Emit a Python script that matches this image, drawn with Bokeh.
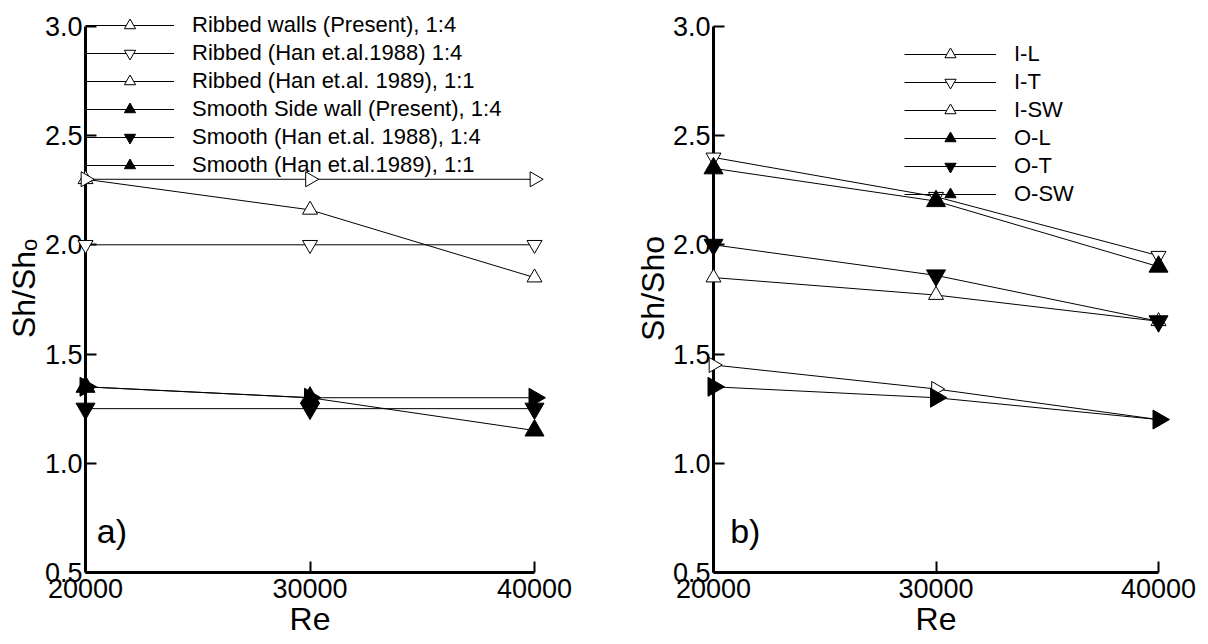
import math
from bokeh.plotting import figure
from bokeh.layouts import row
from bokeh.models import (Legend, LegendItem, Label, FixedTicker, Range1d,
                          NumeralTickFormatter)
from bokeh.embed import file_html
from bokeh.resources import INLINE

# ---------------- data ----------------
re_values = [20000, 30000, 40000]
x_ticks = [20000, 30000, 40000]
y_ticks = [0.5, 1.0, 1.5, 2.0, 2.5, 3.0]

a_labels = [
    "Ribbed walls (Present), 1:4",
    "Ribbed (Han et.al.1988) 1:4",
    "Ribbed (Han et.al. 1989), 1:1",
    "Smooth Side wall (Present), 1:4",
    "Smooth (Han et.al. 1988), 1:4",
    "Smooth (Han et.al.1989), 1:1",
]
a_ribbed_present = [2.30, 2.16, 1.85]
a_ribbed_han1988 = [2.00, 2.00, 2.00]
a_ribbed_han1989 = [2.30, 2.30, 2.30]
a_smooth_present = [1.35, 1.30, 1.15]
a_smooth_han1988 = [1.25, 1.25, 1.25]
a_smooth_han1989 = [1.35, 1.30, 1.30]

b_labels = ["I-L", "I-T", "I-SW", "O-L", "O-T", "O-SW"]
b_IL = [1.85, 1.77, 1.65]
b_IT = [2.40, 2.22, 1.95]
b_ISW = [1.45, 1.34, 1.20]
b_OL = [2.35, 2.20, 1.90]
b_OT = [2.00, 1.86, 1.65]
b_OSW = [1.35, 1.30, 1.20]

# ---------------- styles ----------------
FONT = "Liberation Sans"
# (marker, angle, fill, size)
STYLES = [
    ("triangle", 0.0, "white", 15),
    ("inverted_triangle", 0.0, "white", 15),
    ("triangle", -math.pi / 2, "white", 15),
    ("triangle", 0.0, "black", 19),
    ("inverted_triangle", 0.0, "black", 19),
    ("triangle", -math.pi / 2, "black", 19),
]


def make_panel(series, labels, width, border_left, border_right, legend_loc,
               glyph_w, ylabel, ylabel_standoff, tag, tag_x, tag_y):
    # y range extends a little above 3.0 so the legend is not clipped;
    # the y axis itself is bounded to 0.5..3.0
    p = figure(width=width, height=644,
               x_range=Range1d(20000, 40000), y_range=Range1d(0.5, 3.1),
               output_backend="svg", toolbar_location=None,
               min_border_left=border_left, min_border_right=border_right,
               min_border_top=4, min_border_bottom=72)
    p.outline_line_color = None
    p.xgrid.visible = False
    p.ygrid.visible = False
    p.background_fill_color = "white"
    p.border_fill_color = "white"

    for ax in (p.xaxis[0], p.yaxis[0]):
        ax.axis_line_width = 3
        ax.axis_line_color = "black"
        ax.major_tick_line_width = 2
        ax.major_tick_in = 11
        ax.major_tick_out = 0
        ax.minor_tick_line_color = None
        ax.major_label_text_font = FONT
        ax.major_label_text_font_size = "27px"
        ax.major_label_text_color = "black"
        ax.axis_label_text_font = FONT
        ax.axis_label_text_font_size = "32px"
        ax.axis_label_text_font_style = "normal"
        ax.axis_label_text_color = "black"
    p.yaxis.bounds = (0.5, 3.0)
    p.xaxis.ticker = FixedTicker(ticks=x_ticks)
    p.yaxis.ticker = FixedTicker(ticks=y_ticks)
    p.xaxis.formatter = NumeralTickFormatter(format="0")
    p.yaxis.formatter = NumeralTickFormatter(format="0.0")
    p.xaxis.major_label_standoff = 6
    p.yaxis.major_label_standoff = 3
    p.xaxis.axis_label = "Re"
    p.xaxis.axis_label_standoff = 0
    p.yaxis.axis_label = ylabel
    p.yaxis.axis_label_standoff = ylabel_standoff

    items = []
    for vals, lab, (mk, ang, fill, size) in zip(series, labels, STYLES):
        lr = p.line(re_values, vals, line_color="black", line_width=1)
        sr = p.scatter(re_values, vals, marker=mk, angle=ang, size=size,
                       fill_color=fill, line_color="black", line_width=1)
        sr.level = "overlay"
        items.append(LegendItem(label=lab, renderers=[lr, sr]))

    leg = Legend(items=items, location=legend_loc,
                 glyph_width=glyph_w, glyph_height=28, spacing=0,
                 label_standoff=18, label_height=28,
                 padding=0, margin=0,
                 border_line_color=None, background_fill_alpha=0,
                 label_text_font=FONT, label_text_font_size="22px",
                 label_text_color="black")
    p.add_layout(leg)

    p.add_layout(Label(x=tag_x, y=tag_y, text=tag, text_font=FONT,
                       text_font_size="34px", text_color="black",
                       text_baseline="alphabetic"))
    return p


pa = make_panel(
    [a_ribbed_present, a_ribbed_han1988, a_ribbed_han1989,
     a_smooth_present, a_smooth_han1988, a_smooth_han1989],
    a_labels, width=604, border_left=85, border_right=70,
    legend_loc=(0, 393), glyph_w=89, ylabel="Sh/Sh\u2092", ylabel_standoff=0,
    tag="a)", tag_x=20500, tag_y=0.69)

pb = make_panel(
    [b_IL, b_IT, b_ISW, b_OL, b_OT, b_OSW],
    b_labels, width=604, border_left=109, border_right=50,
    legend_loc=(191, 364), glyph_w=92, ylabel="Sh/Sho", ylabel_standoff=-1,
    tag="b)", tag_x=20750, tag_y=0.69)

layout = row(pa, pb)
open("out.html", "w").write(file_html(layout, INLINE))
